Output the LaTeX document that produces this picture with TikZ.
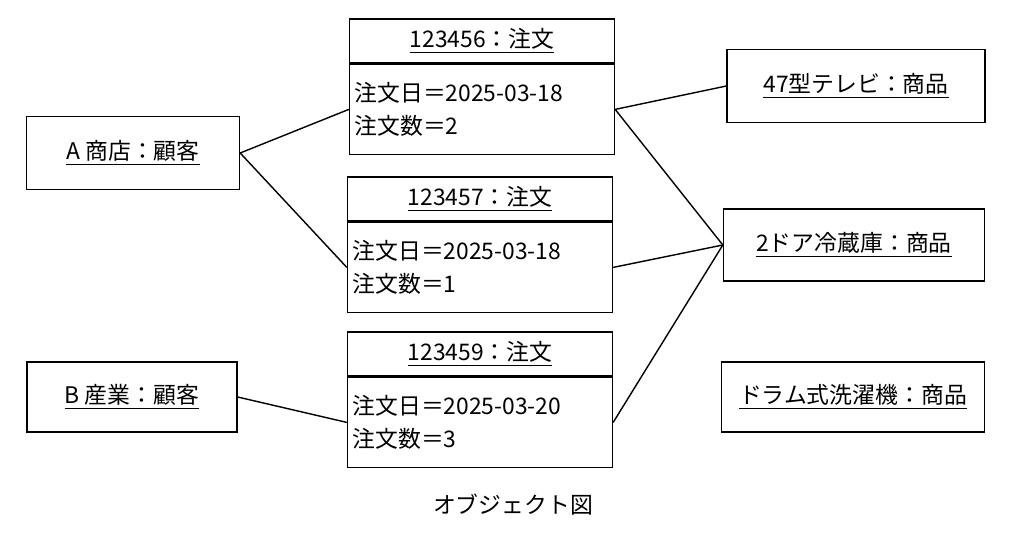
\documentclass[tikz,border=0pt]{standalone}
\usepackage{fontspec}
\setmainfont{Noto Sans CJK JP}
\usetikzlibrary{positioning}
\begin{document}
\begin{tikzpicture}[
        x=0.02cm, y=-0.02cm,
        every node/.style={font=\fontsize{13}{19}\selectfont},
        obj/.style={rectangle, draw, thick, inner sep=0pt},
        head/.style={rectangle, draw, thick, minimum width=5.3cm, minimum height=0.88cm, inner sep=0pt},
        body/.style={rectangle, draw, thick, minimum width=5.3cm, minimum height=1.8cm, align=left, text width=5.1cm, inner sep=0pt},
        link/.style={thick}
    ]
    \useasboundingbox (0,0) rectangle (1025,542);

    % Customers
    \node[obj, minimum width=4.26cm, minimum height=1.46cm] (ashop) at (133,153) {\underline{A 商店：顧客}};
    \node[obj, minimum width=4.2cm, minimum height=1.4cm] (bind) at (132,397) {\underline{B 産業：顧客}};

    % Orders
    \node[head] (o1h) at (482,41) {\underline{123456：注文}};
    \node[body, below=0pt of o1h] (o1b) {注文日＝2025-03-18\\注文数＝2};
    \node[head] (o2h) at (480,199) {\underline{123457：注文}};
    \node[body, below=0pt of o2h] (o2b) {注文日＝2025-03-18\\注文数＝1};
    \node[head] (o3h) at (480,354) {\underline{123459：注文}};
    \node[body, below=0pt of o3h] (o3b) {注文日＝2025-03-20\\注文数＝3};

    % Products
    \node[obj, minimum width=5.16cm, minimum height=1.46cm] (tv) at (856,86) {\underline{47型テレビ：商品}};
    \node[obj, minimum width=5.22cm, minimum height=1.44cm] (fridge) at (854,245) {\underline{2ドア冷蔵庫：商品}};
    \node[obj, minimum width=5.26cm, minimum height=1.4cm] (washer) at (853,397) {\underline{ドラム式洗濯機：商品}};

    % Caption
    \node (caption) at (513,505) {オブジェクト図};

    % Links
    \draw[link] (ashop.east) -- (o1b.west);
    \draw[link] (ashop.east) -- (o2b.west);
    \draw[link] (bind.east) -- (o3b.west);
    \draw[link] (o1b.west -| o1b.east) -- (tv.west);
    \draw[link] (o1b.west -| o1b.east) -- (fridge.west);
    \draw[link] (o2b.west -| o2b.east) -- (fridge.west);
    \draw[link] (o3b.west -| o3b.east) -- (fridge.west);
\end{tikzpicture}
\end{document}
